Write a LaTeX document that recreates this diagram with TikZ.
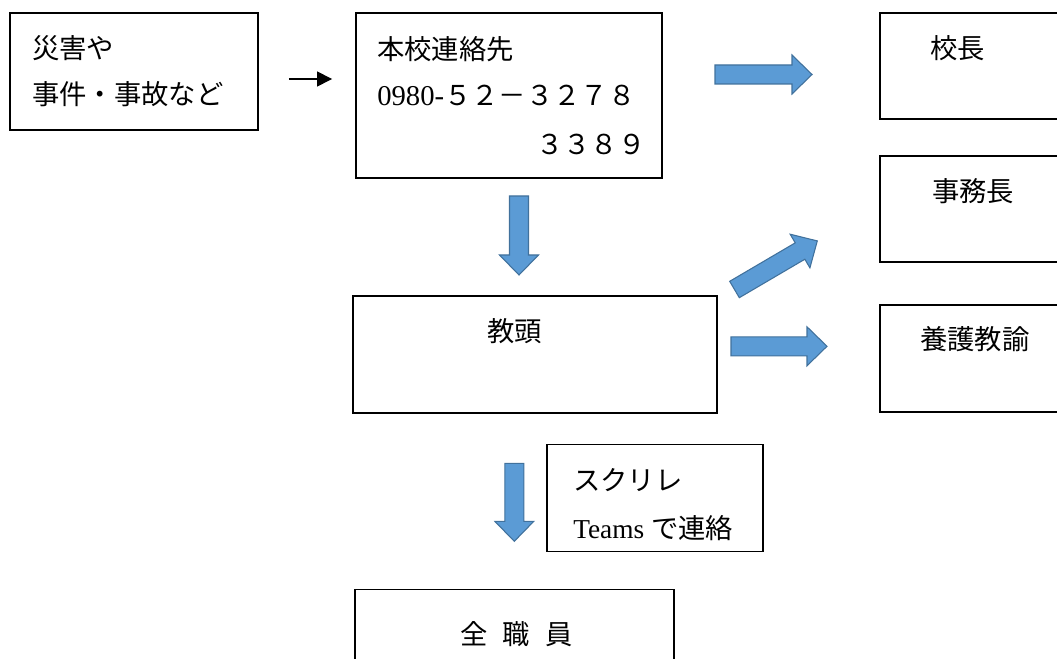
\documentclass[tikz,border=0pt]{standalone}
\usepackage{fontspec}
\setmainfont{Liberation Serif}
\newfontfamily\jp{Noto Sans CJK JP}
\usepackage{tikz}
\usetikzlibrary{calc, arrows.meta}

\definecolor{arrowfill}{HTML}{5B9BD5}
\definecolor{arrowedge}{HTML}{41719C}

\tikzset{
	box/.style = {draw, rectangle, line width = 1.4pt, inner sep = 0pt},
	txt/.style = {anchor = west, inner sep = 0pt, font = \fontsize{20.5}{24}\selectfont},
	blk/.style = {fill = arrowfill, draw = arrowedge, line width = 0.8pt, line join = miter},
	pics/blkarrow/.style = {code = {
		\draw [blk] (0,-9.5) -- ({#1-20},-9.5) -- ({#1-20},-19.5) -- (#1,0) -- ({#1-20},19.5) -- ({#1-20},9.5) -- (0,9.5) -- cycle;
	}}
}

\begin{document}
\begin{tikzpicture}[x = 0.75pt, y = -0.75pt]
							\useasboundingbox (0,0) rectangle (1057,659);

							% boxes
							\node [box, minimum width = 186pt, minimum height = 87.75pt] (hassei) at (134,71.5) {};
							\node [box, minimum width = 229.5pt, minimum height = 123.75pt] (renraku) at (509,95.5) {};
							\node [box, minimum width = 272.6pt, minimum height = 87.75pt] (kyoto) at (535,354.5) {};
							\node [box, minimum width = 161.8pt, minimum height = 80.25pt] (teams) at (655,498) {};
							\node [box, minimum width = 239.25pt, minimum height = 83.25pt] (zenin) at (514.5,645) {};

							\foreach \name/\y in {kocho/66, jimucho/209, yogo/358.5}
							{
								\node [box, minimum width = 150pt, minimum height = 79.75pt] (\name) at (980,\y) {};
							}

							% texts
							\node [txt] (hassei1) at (32,48) {\jp 災害や};
							\node [txt] (hassei2) at (32,94) {\jp 事件・事故など};
							\node [txt] (renraku1) at (377,49) {\jp 本校連絡先};
							\node [txt] (renraku2) at (377,95) {{\fontsize{21.5}{24}\selectfont 0980-}{\jp ５２－３２７８}};
							\node [txt] (renraku3) at (536,144) {\jp ３３８９};
							\node [txt] (kocho1) at (930,48) {\jp 校長};
							\node [txt] (jimucho1) at (932,191) {\jp 事務長};
							\node [txt] (yogo1) at (920,339) {\jp 養護教諭};
							\node [txt] (kyoto1) at (487,331) {\jp 教頭};
							\node [txt] (teams1) at (573,480) {\jp スクリレ};
							\node [txt] (teams2) at (573,528) {Teams {\jp で連絡}};
							\node [txt] (zenin1) at (460,634) {\jp\spaceskip = 0.55em 全 職 員};

							% arrows
							\draw [-{Triangle[length = 11.25pt, width = 11.25pt]}, line width = 1pt] ($(hassei.east)+(30,7.5)$) -- ($(renraku.west)+(-23,-16.5)$);

							\foreach \x/\y/\r/\l in {715/74.5/0/97, 731/346.3/0/96, 734.5/289.5/30.4/96, 519/196/-90/79, 514.3/463.3/-90/78}
							{
								\pic [rotate = \r] at (\x,\y) {blkarrow = \l};
							}
						\end{tikzpicture}
\end{document}
